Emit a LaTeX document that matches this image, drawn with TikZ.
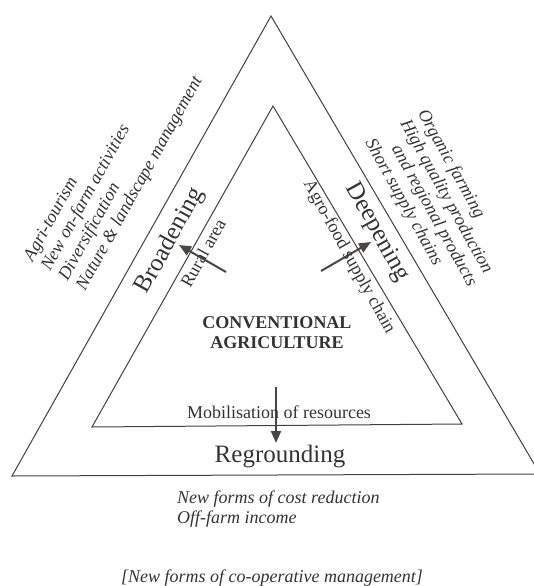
\documentclass[tikz,border=0pt]{standalone}
\usepackage{fontspec}
\setmainfont{Liberation Serif}
\usetikzlibrary{arrows.meta}

\definecolor{linegray}{rgb}{0.25,0.25,0.25}
\definecolor{textgray}{rgb}{0.2,0.2,0.2}
\definecolor{arrowgray}{rgb}{0.3,0.27,0.25}

\begin{document}
\begin{tikzpicture}[x=1pt,y=-1pt,
        side/.style={draw=linegray,line width=1pt},
        smalltext/.style={text=textgray,inner sep=0pt,font=\fontsize{18}{20}\selectfont},
        bigtext/.style={text=textgray,inner sep=0pt,font=\fontsize{25}{28}\selectfont},
        listtext/.style={text=textgray,inner sep=0pt,align=left,font=\itshape\fontsize{18}{20}\selectfont},
        push/.style={draw=arrowgray,line width=2pt,-{Triangle[length=12pt,width=10pt]}}]
        \path[use as bounding box,clip] (0,0) rectangle (534,586);
        % outer and inner triangle
        \coordinate (o1) at (271,16);
        \coordinate (o2) at (12,476);
        \coordinate (o3) at (540,474);
        \coordinate (i1) at (273,106);
        \coordinate (i2) at (92,427);
        \coordinate (i3) at (462,424);
        \draw[side] (o1) -- (o2) -- (o3) -- cycle;
        \draw[side] (i1) -- (i2) -- (i3) -- cycle;
        % arrows
        \coordinate (lt) at (226,272);
        \coordinate (lh) at (179,245);
        \coordinate (rt) at (321,271);
        \coordinate (rh) at (371,242);
        \coordinate (bt) at (276,387);
        \coordinate (bh) at (276,443);
        \path (lt) edge[push] (lh);
        \path (rt) edge[push] (rh);
        \path (bt) edge[push] (bh);
        % labels
        \node[bigtext,rotate=61](broad) at (170,241) {Broadening};
        \node[bigtext,rotate=-61](deep) at (377,232) {Deepening};
        \node[smalltext,rotate=61](rural) at (203,253) {Rural area};
        \node[smalltext,rotate=-61](agro) at (349,257) {Agro-food supply chain};
        \node[smalltext,align=center,font=\bfseries\fontsize{18}{20}\selectfont](conv) at (277,333) {CONVENTIONAL\\AGRICULTURE};
        \node[smalltext,anchor=base](mob) at (279,418) {Mobilisation of resources};
        \node[bigtext,anchor=base](reground) at (280,462) {Regrounding};
        % lists
        \node[listtext,rotate=61](broadlist) at (114,169) {Agri-tourism\\New on-farm activities\\Diversification\\Nature \& landscape management};
        \node[listtext,rotate=-61](deeplist) at (438,203) {Organic farming\\High quality production\\\hspace*{1em}and regional products\\Short supply chains};
        \node[listtext,anchor=base west](cost) at (177,503) {New forms of cost reduction};
        \node[listtext,anchor=base west](offfarm) at (177,523) {Off-farm income};
        \node[listtext,anchor=base](coop) at (272,582) {[New forms of co-operative management]};
\end{tikzpicture}
\end{document}
